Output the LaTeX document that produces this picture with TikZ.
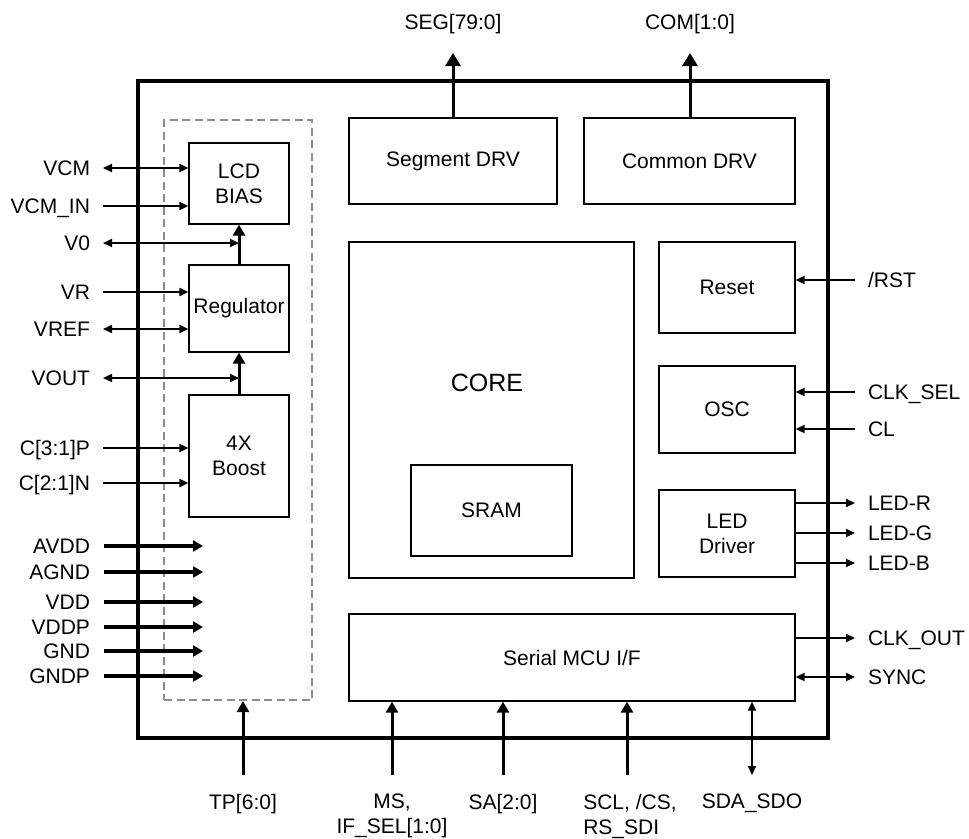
\documentclass[tikz,border=0pt]{standalone}
\usepackage{fontspec}
\setmainfont{Liberation Sans}
\usepackage{tikz}
\usetikzlibrary{arrows.meta, positioning, calc}

\begin{document}
\begin{tikzpicture}[x=1pt, y=-1pt,
        blk/.style={rectangle, draw=black, line width=1.3pt, inner sep=0pt, align=center, font=\fontsize{21}{25}\selectfont},
        chip/.style={rectangle, draw=black, line width=4pt, inner sep=0pt},
        group/.style={rectangle, draw=black!45, dash pattern=on 8pt off 4.5pt, line width=2pt, inner sep=0pt},
        pinl/.style={anchor=east, inner sep=0pt, outer xsep=13pt, text height=15pt, text depth=0pt, font=\fontsize{21}{25}\selectfont},
        pinr/.style={anchor=west, inner sep=0pt, outer xsep=13pt, text height=15pt, text depth=0pt, font=\fontsize{21}{25}\selectfont},
        pint/.style={anchor=south, inner sep=0pt, outer ysep=23.5pt, text height=15pt, text depth=0pt, font=\fontsize{21}{25}\selectfont},
        pinb/.style={anchor=north, inner sep=0pt, outer ysep=19pt, align=center, font=\fontsize{21}{25}\selectfont},
        sig/.style={draw, line width=2pt, -{Triangle[length=9pt, width=8pt]}},
        sigbi/.style={draw, line width=2pt, {Triangle[length=9pt, width=8pt]}-{Triangle[length=9pt, width=8pt]}},
        pwr/.style={draw, line width=3.3pt, -{Triangle[length=10pt, width=11pt]}},
        bus/.style={draw, line width=3pt, -{Triangle[length=11pt, width=12pt]}},
        busw/.style={draw, line width=3pt, -{Triangle[length=13pt, width=15pt]}}]

    \useasboundingbox (0,0) rectangle (969,838);

    % analog block group and chip outline
    \node [group, minimum width=148pt, minimum height=580pt] (grp) at (238,410) {};
    \node [chip, minimum width=690pt, minimum height=657pt] (chip) at (483,409.5) {};

    % blocks
    \node [blk, minimum width=100pt, minimum height=81pt] (bias) at (239,183.5) {LCD\\BIAS};
    \node [blk, minimum width=100pt, minimum height=87pt] (reg) at (239,308.5) {Regulator};
    \node [blk, minimum width=100pt, minimum height=122pt] (boost) at (239,456) {4X\\Boost};
    \node [blk, minimum width=208pt, minimum height=86pt] (seg) at (453,161) {Segment DRV};
    \node [blk, minimum width=211pt, minimum height=86pt] (com) at (689.5,161) {Common DRV};
    \node [blk, minimum width=285pt, minimum height=336pt] (core) at (491.5,410) {};
    \node [font=\fontsize{25}{30}\selectfont] (coretxt) at (487,383) {CORE};
    \node [blk, minimum width=161pt, minimum height=91pt] (sram) at (491.5,510.5) {SRAM};
    \node [blk, minimum width=136pt, minimum height=91pt] (reset) at (727,287.5) {Reset};
    \node [blk, minimum width=136pt, minimum height=87pt] (osc) at (727,409.5) {OSC};
    \node [blk, minimum width=136pt, minimum height=87pt] (led) at (727,533.5) {LED\\Driver};
    \node [blk, minimum width=446pt, minimum height=87pt] (mcu) at (572,657.5) {Serial MCU I/F};

    % left pins
    \node [pinl] (vcm) at (103,168) {VCM};
    \node [pinl] (vcmin) at (103,206) {VCM\_IN};
    \node [pinl] (v0) at (103,243) {V0};
    \node [pinl] (vr) at (103,292) {VR};
    \node [pinl] (vref) at (103,329) {VREF};
    \node [pinl] (vout) at (103,378) {VOUT};
    \node [pinl] (cp) at (103,448) {C[3:1]P};
    \node [pinl] (cn) at (103,483) {C[2:1]N};

    \path [sigbi] (vcm.east) -- (vcm.east -| bias.west);
    \path [sig] (vcmin.east) -- (vcmin.east -| bias.west);
    \path [sigbi] (v0.east) -- (v0.east -| bias.south);
    \path [sig] (vr.east) -- (vr.east -| reg.west);
    \path [sigbi] (vref.east) -- (vref.east -| reg.west);
    \path [sigbi] (vout.east) -- (vout.east -| reg.south);
    \path [sig] (cp.east) -- (cp.east -| boost.west);
    \path [sig] (cn.east) -- (cn.east -| boost.west);

    \path [bus] (reg.north) -- (bias.south);
    \path [bus] (boost.north) -- (reg.south);

    % supplies
    \coordinate (pwrend) at (203,0);
    \foreach \nm/\txt/\yy in {avdd/AVDD/546, agnd/AGND/572, vdd/VDD/602, vddp/VDDP/627, gnd/GND/651, gndp/GNDP/676} {
        \node [pinl, outer xsep=14pt] (\nm) at (104,\yy) {\txt};
        \path [pwr] (\nm.east) -- (\nm.east -| pwrend);
    }

    % top pins
    \node [pint] (segpin) at (453,53) {SEG[79:0]};
    \node [pint] (compin) at (690,53) {COM[1:0]};
    \path [busw] (segpin.south |- seg.north) -- (segpin.south);
    \path [busw] (compin.south |- com.north) -- (compin.south);

    % right pins
    \node [pinr] (rst) at (855,280) {/RST};
    \node [pinr] (clksel) at (855,392) {CLK\_SEL};
    \node [pinr] (cl) at (855,429) {CL};
    \node [pinr] (ledr) at (855,503) {LED-R};
    \node [pinr] (ledg) at (855,533) {LED-G};
    \node [pinr] (ledb) at (855,563) {LED-B};
    \node [pinr] (clkout) at (855,638) {CLK\_OUT};
    \node [pinr] (sync) at (855,677) {SYNC};

    \path [sig, line width=1.8pt] (rst.west) -- (rst.west -| reset.east);
    \path [sig, line width=1.8pt] (clksel.west) -- (clksel.west -| osc.east);
    \path [sig, line width=1.8pt] (cl.west) -- (cl.west -| osc.east);
    \path [sig, line width=1.8pt] (ledr.west -| led.east) -- (ledr.west);
    \path [sig, line width=1.8pt] (ledg.west -| led.east) -- (ledg.west);
    \path [sig, line width=1.8pt] (ledb.west -| led.east) -- (ledb.west);
    \path [sig, line width=1.8pt] (clkout.west -| mcu.east) -- (clkout.west);
    \path [sigbi, line width=1.8pt] (sync.west -| mcu.east) -- (sync.west);

    % bottom pins
    \node [pinb] (tp) at (243,775) {TP[6:0]};
    \node [pinb] (ms) at (392,775) {MS,\\IF\_SEL[1:0]};
    \node [pinb] (sa) at (503,775) {SA[2:0]};
    \node [pinb, align=left] (scl) at (630,775) {SCL, /CS,\\RS\_SDI};
    \node [pinb] (sda) at (752,775) {SDA\_SDO};

    \path [bus] (tp.north) -- (tp.north |- grp.south);
    \path [bus] (ms.north) -- (ms.north |- mcu.south);
    \path [bus] (sa.north) -- (sa.north |- mcu.south);
    \path [bus] ([xshift=-3pt]scl.north) -- ([xshift=-3pt]scl.north |- mcu.south);
    \path [sigbi, line width=1.5pt] (sda.north) -- (sda.north |- mcu.south);
\end{tikzpicture}
\end{document}
